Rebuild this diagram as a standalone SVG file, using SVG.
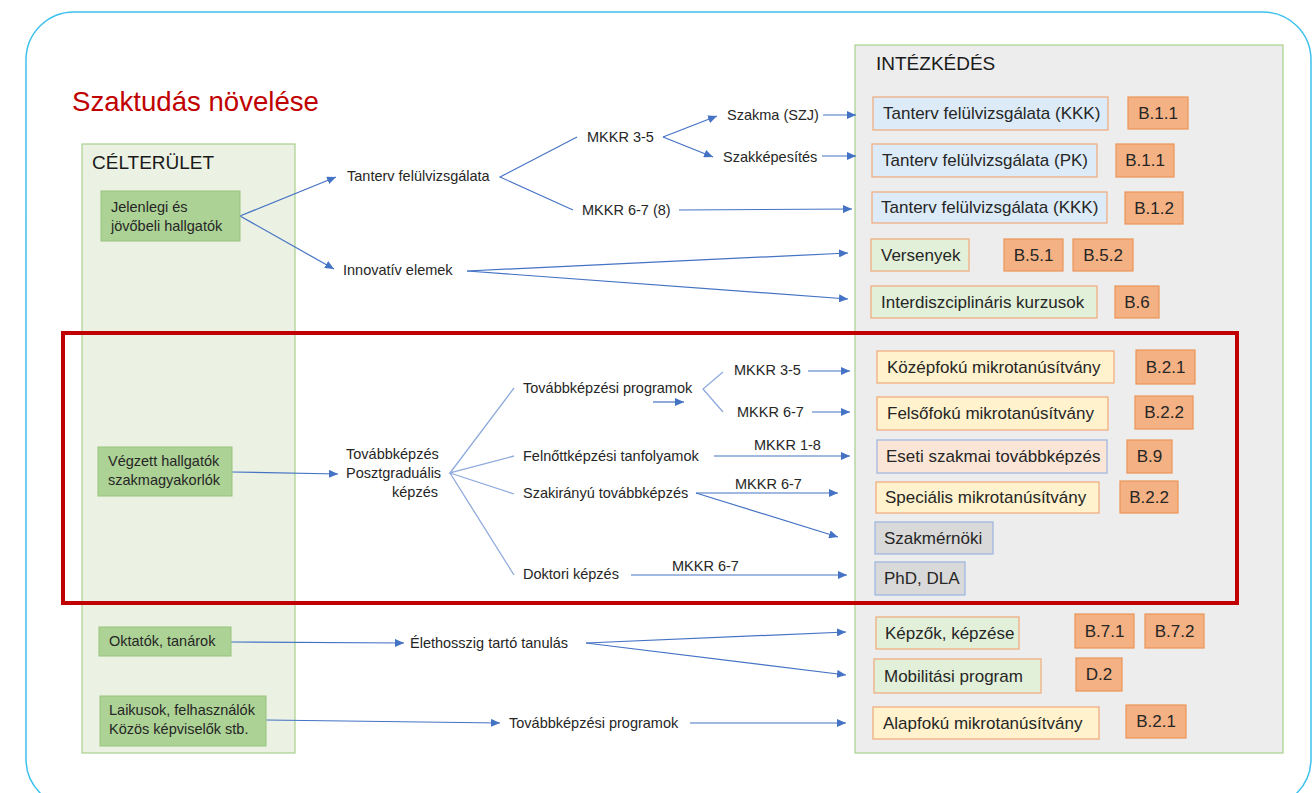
<svg xmlns="http://www.w3.org/2000/svg" width="1313" height="793" viewBox="0 0 1313 793">
<style>
text{font-family:"Liberation Sans",Arial,sans-serif;fill:#262626}
.s{font-size:14.5px}
.b{font-size:17px}
.h{font-size:19px;fill:#1a1a1a}
.c{text-anchor:middle}
.gn{fill:#acd295;stroke:#98c57c;stroke-width:1}
.blue{fill:#dcebf7;stroke:#f0a878;stroke-width:1.2}
.code{fill:#f4b183;stroke:#ec9358;stroke-width:1.2}
.yel{fill:#fff2cc;stroke:#f0a878;stroke-width:1.2}
.grn{fill:#e2f0d9;stroke:#f0a878;stroke-width:1.2}
.pch{fill:#fbe5d6;stroke:#9db3e0;stroke-width:1.2}
.gry{fill:#d9d9d9;stroke:#9db3e0;stroke-width:1.2}
.a{stroke:#4472c4;stroke-width:1.2;fill:none;marker-end:url(#ah)}
.l{stroke:#4472c4;stroke-width:1.1;fill:none}
.ll{stroke:#8faadc;stroke-width:1.3;fill:none}
</style>
<defs>
<marker id="ah" markerUnits="userSpaceOnUse" markerWidth="9" markerHeight="8" refX="9" refY="4" orient="auto">
<path d="M0,0 L9,4 L0,8 z" fill="#4472c4"/>
</marker>
</defs>
<rect x="26" y="12" width="1285" height="795" rx="48" fill="#ffffff" stroke="#3ec1ec" stroke-width="1.5"/>
<text x="72" y="111" style="font-size:27.6px;fill:#c00000">Szaktudás növelése</text>
<g id="celterulet">
<rect x="82" y="144" width="213" height="609" fill="#ebf1e3" stroke="#a9d18e" stroke-width="1.2"/>
<text class="h" x="92" y="169">CÉLTERÜLET</text>
</g>
<g id="intezkedes">
<rect x="855" y="45" width="428" height="708" fill="#ededed" stroke="#a9d18e" stroke-width="1.2"/>
<text class="h" x="876" y="70">INTÉZKÉDÉS</text>
</g>
<rect id="highlight" x="63" y="333" width="1174" height="270" fill="none" stroke="#c00000" stroke-width="4"/>
<g id="connectors">
<path class="a" d="M240,216 L336,177"/>
<path class="a" d="M240,216 L334,269"/>
<path class="l" d="M577,137 L500,177 L573,210"/>
<path class="a" d="M663,137 L717,116"/>
<path class="a" d="M663,137 L713,157"/>
<path class="a" d="M823,115 L856,115"/>
<path class="a" d="M822,156 L856,156"/>
<path class="a" d="M679,210 L852,209"/>
<path class="a" d="M467,271 L848,253"/>
<path class="a" d="M467,271 L848,299"/>
<path class="a" d="M232,472 L338,474"/>
<path class="ll" d="M514,388 L450,473 L514,456 M450,473 L514,494 M450,473 L514,575"/>
<path class="a" d="M653,402 L684,402"/>
<path class="ll" d="M723,372 L703,389 L723,412"/>
<path class="a" d="M808,371 L850,371"/>
<path class="a" d="M812,412 L850,412"/>
<path class="a" d="M714,456 L850,456"/>
<path class="a" d="M696,493 L838,493"/>
<path class="a" d="M696,493 L838,537"/>
<path class="a" d="M631,575 L847,575"/>
<path class="a" d="M231,642 L404,643"/>
<path class="a" d="M586,643 L846,632"/>
<path class="a" d="M586,643 L846,675"/>
<path class="a" d="M266,720 L500,723"/>
<path class="a" d="M690,723 L846,723"/>
</g>
<g id="labels">
<text class="s" x="347" y="181">Tanterv felülvizsgálata</text>
<text class="s" x="587" y="142">MKKR 3-5</text>
<text class="s" x="582" y="215">MKKR 6-7 (8)</text>
<text class="s" x="727" y="120">Szakma (SZJ)</text>
<text class="s" x="723" y="162">Szakképesítés</text>
<text class="s" x="343" y="275">Innovatív elemek</text>
<text class="s" x="346" y="459">Továbbképzés</text>
<text class="s" x="346" y="478">Posztgraduális</text>
<text class="s" x="438" y="497" text-anchor="end">képzés</text>
<text class="s" x="523" y="393">Továbbképzési programok</text>
<text class="s" x="734" y="375">MKKR 3-5</text>
<text class="s" x="737" y="417">MKKR 6-7</text>
<text class="s" x="523" y="461">Felnőttképzési tanfolyamok</text>
<text class="s" x="754" y="450">MKKR 1-8</text>
<text class="s" x="523" y="498">Szakirányú továbbképzés</text>
<text class="s" x="735" y="489">MKKR 6-7</text>
<text class="s" x="523" y="579">Doktori képzés</text>
<text class="s" x="672" y="571">MKKR 6-7</text>
<text class="s" x="410" y="648">Élethosszig tartó tanulás</text>
<text class="s" x="509" y="728">Továbbképzési programok</text>
</g>
<g id="n-jelenlegi"><rect class="gn" x="101" y="191" width="139" height="50"/><text class="s" x="111" y="212">Jelenlegi és</text><text class="s" x="111" y="231">jövőbeli hallgatók</text></g>
<g id="n-vegzett"><rect class="gn" x="98" y="447" width="134" height="49"/><text class="s" x="108" y="466">Végzett hallgatók</text><text class="s" x="108" y="485">szakmagyakorlók</text></g>
<g id="n-oktatok"><rect class="gn" x="99" y="627" width="132" height="29"/><text class="s" x="109" y="646">Oktatók, tanárok</text></g>
<g id="n-laikusok"><rect class="gn" x="100" y="696" width="166" height="50"/><text class="s" x="109" y="715">Laikusok, felhasználók</text><text class="s" x="109" y="734">Közös képviselők stb.</text></g>
<g id="r1"><rect class="blue" x="873" y="97" width="235" height="33"/><text class="b" x="883" y="119">Tanterv felülvizsgálata (KKK)</text></g>
<g id="c1"><rect class="code" x="1128" y="97" width="60" height="32"/><text class="b c" x="1158" y="119">B.1.1</text></g>
<g id="r2"><rect class="blue" x="872" y="144" width="225" height="33"/><text class="b" x="882" y="166">Tanterv felülvizsgálata (PK)</text></g>
<g id="c2"><rect class="code" x="1116" y="144" width="58" height="33"/><text class="b c" x="1145" y="166">B.1.1</text></g>
<g id="r3"><rect class="blue" x="872" y="192" width="235" height="31"/><text class="b" x="881" y="213">Tanterv felülvizsgálata (KKK)</text></g>
<g id="c3"><rect class="code" x="1125" y="192" width="58" height="32"/><text class="b c" x="1154" y="214">B.1.2</text></g>
<g id="r4"><rect class="grn" x="871" y="239" width="98" height="32"/><text class="b" x="881" y="261">Versenyek</text></g>
<g id="c4a"><rect class="code" x="1004" y="239" width="59" height="32"/><text class="b c" x="1033.5" y="261">B.5.1</text></g>
<g id="c4b"><rect class="code" x="1073" y="239" width="60" height="32"/><text class="b c" x="1103" y="261">B.5.2</text></g>
<g id="r5"><rect class="grn" x="871" y="286" width="226" height="32"/><text class="b" x="881" y="308">Interdiszciplináris kurzusok</text></g>
<g id="c5"><rect class="code" x="1115" y="286" width="44" height="32"/><text class="b c" x="1137" y="308">B.6</text></g>
<g id="r6"><rect class="yel" x="877" y="351" width="237" height="32"/><text class="b" x="887" y="373">Középfokú mikrotanúsítvány</text></g>
<g id="c6"><rect class="code" x="1136" y="350" width="59" height="34"/><text class="b c" x="1165.5" y="373">B.2.1</text></g>
<g id="r7"><rect class="yel" x="877" y="397" width="231" height="33"/><text class="b" x="887" y="419">Felsőfokú mikrotanúsítvány</text></g>
<g id="c7"><rect class="code" x="1135" y="396" width="58" height="33"/><text class="b c" x="1164" y="418">B.2.2</text></g>
<g id="r8"><rect class="pch" x="877" y="440" width="230" height="33"/><text class="b" x="886" y="462">Eseti szakmai továbbképzés</text></g>
<g id="c8"><rect class="code" x="1127" y="440" width="45" height="33"/><text class="b c" x="1149.5" y="462">B.9</text></g>
<g id="r9"><rect class="yel" x="876" y="482" width="223" height="31"/><text class="b" x="885" y="503">Speciális mikrotanúsítvány</text></g>
<g id="c9"><rect class="code" x="1120" y="481" width="58" height="32"/><text class="b c" x="1149" y="503">B.2.2</text></g>
<g id="r10"><rect class="gry" x="875" y="522" width="118" height="32"/><text class="b" x="884" y="544">Szakmérnöki</text></g>
<g id="r11"><rect class="gry" x="875" y="562" width="90" height="33"/><text class="b" x="884" y="584">PhD, DLA</text></g>
<g id="r12"><rect class="grn" x="876" y="617" width="143" height="32"/><text class="b" x="885" y="639">Képzők, képzése</text></g>
<g id="c12a"><rect class="code" x="1075" y="614" width="59" height="34"/><text class="b c" x="1104.5" y="637">B.7.1</text></g>
<g id="c12b"><rect class="code" x="1145" y="614" width="59" height="34"/><text class="b c" x="1174.5" y="637">B.7.2</text></g>
<g id="r13"><rect class="grn" x="874" y="659" width="167" height="34"/><text class="b" x="884" y="682">Mobilitási program</text></g>
<g id="c13"><rect class="code" x="1076" y="658" width="46" height="33"/><text class="b c" x="1099" y="680">D.2</text></g>
<g id="r14"><rect class="yel" x="873" y="707" width="226" height="32"/><text class="b" x="883" y="729">Alapfokú mikrotanúsítvány</text></g>
<g id="c14"><rect class="code" x="1126" y="705" width="60" height="33"/><text class="b c" x="1156" y="727">B.2.1</text></g>
</svg>
